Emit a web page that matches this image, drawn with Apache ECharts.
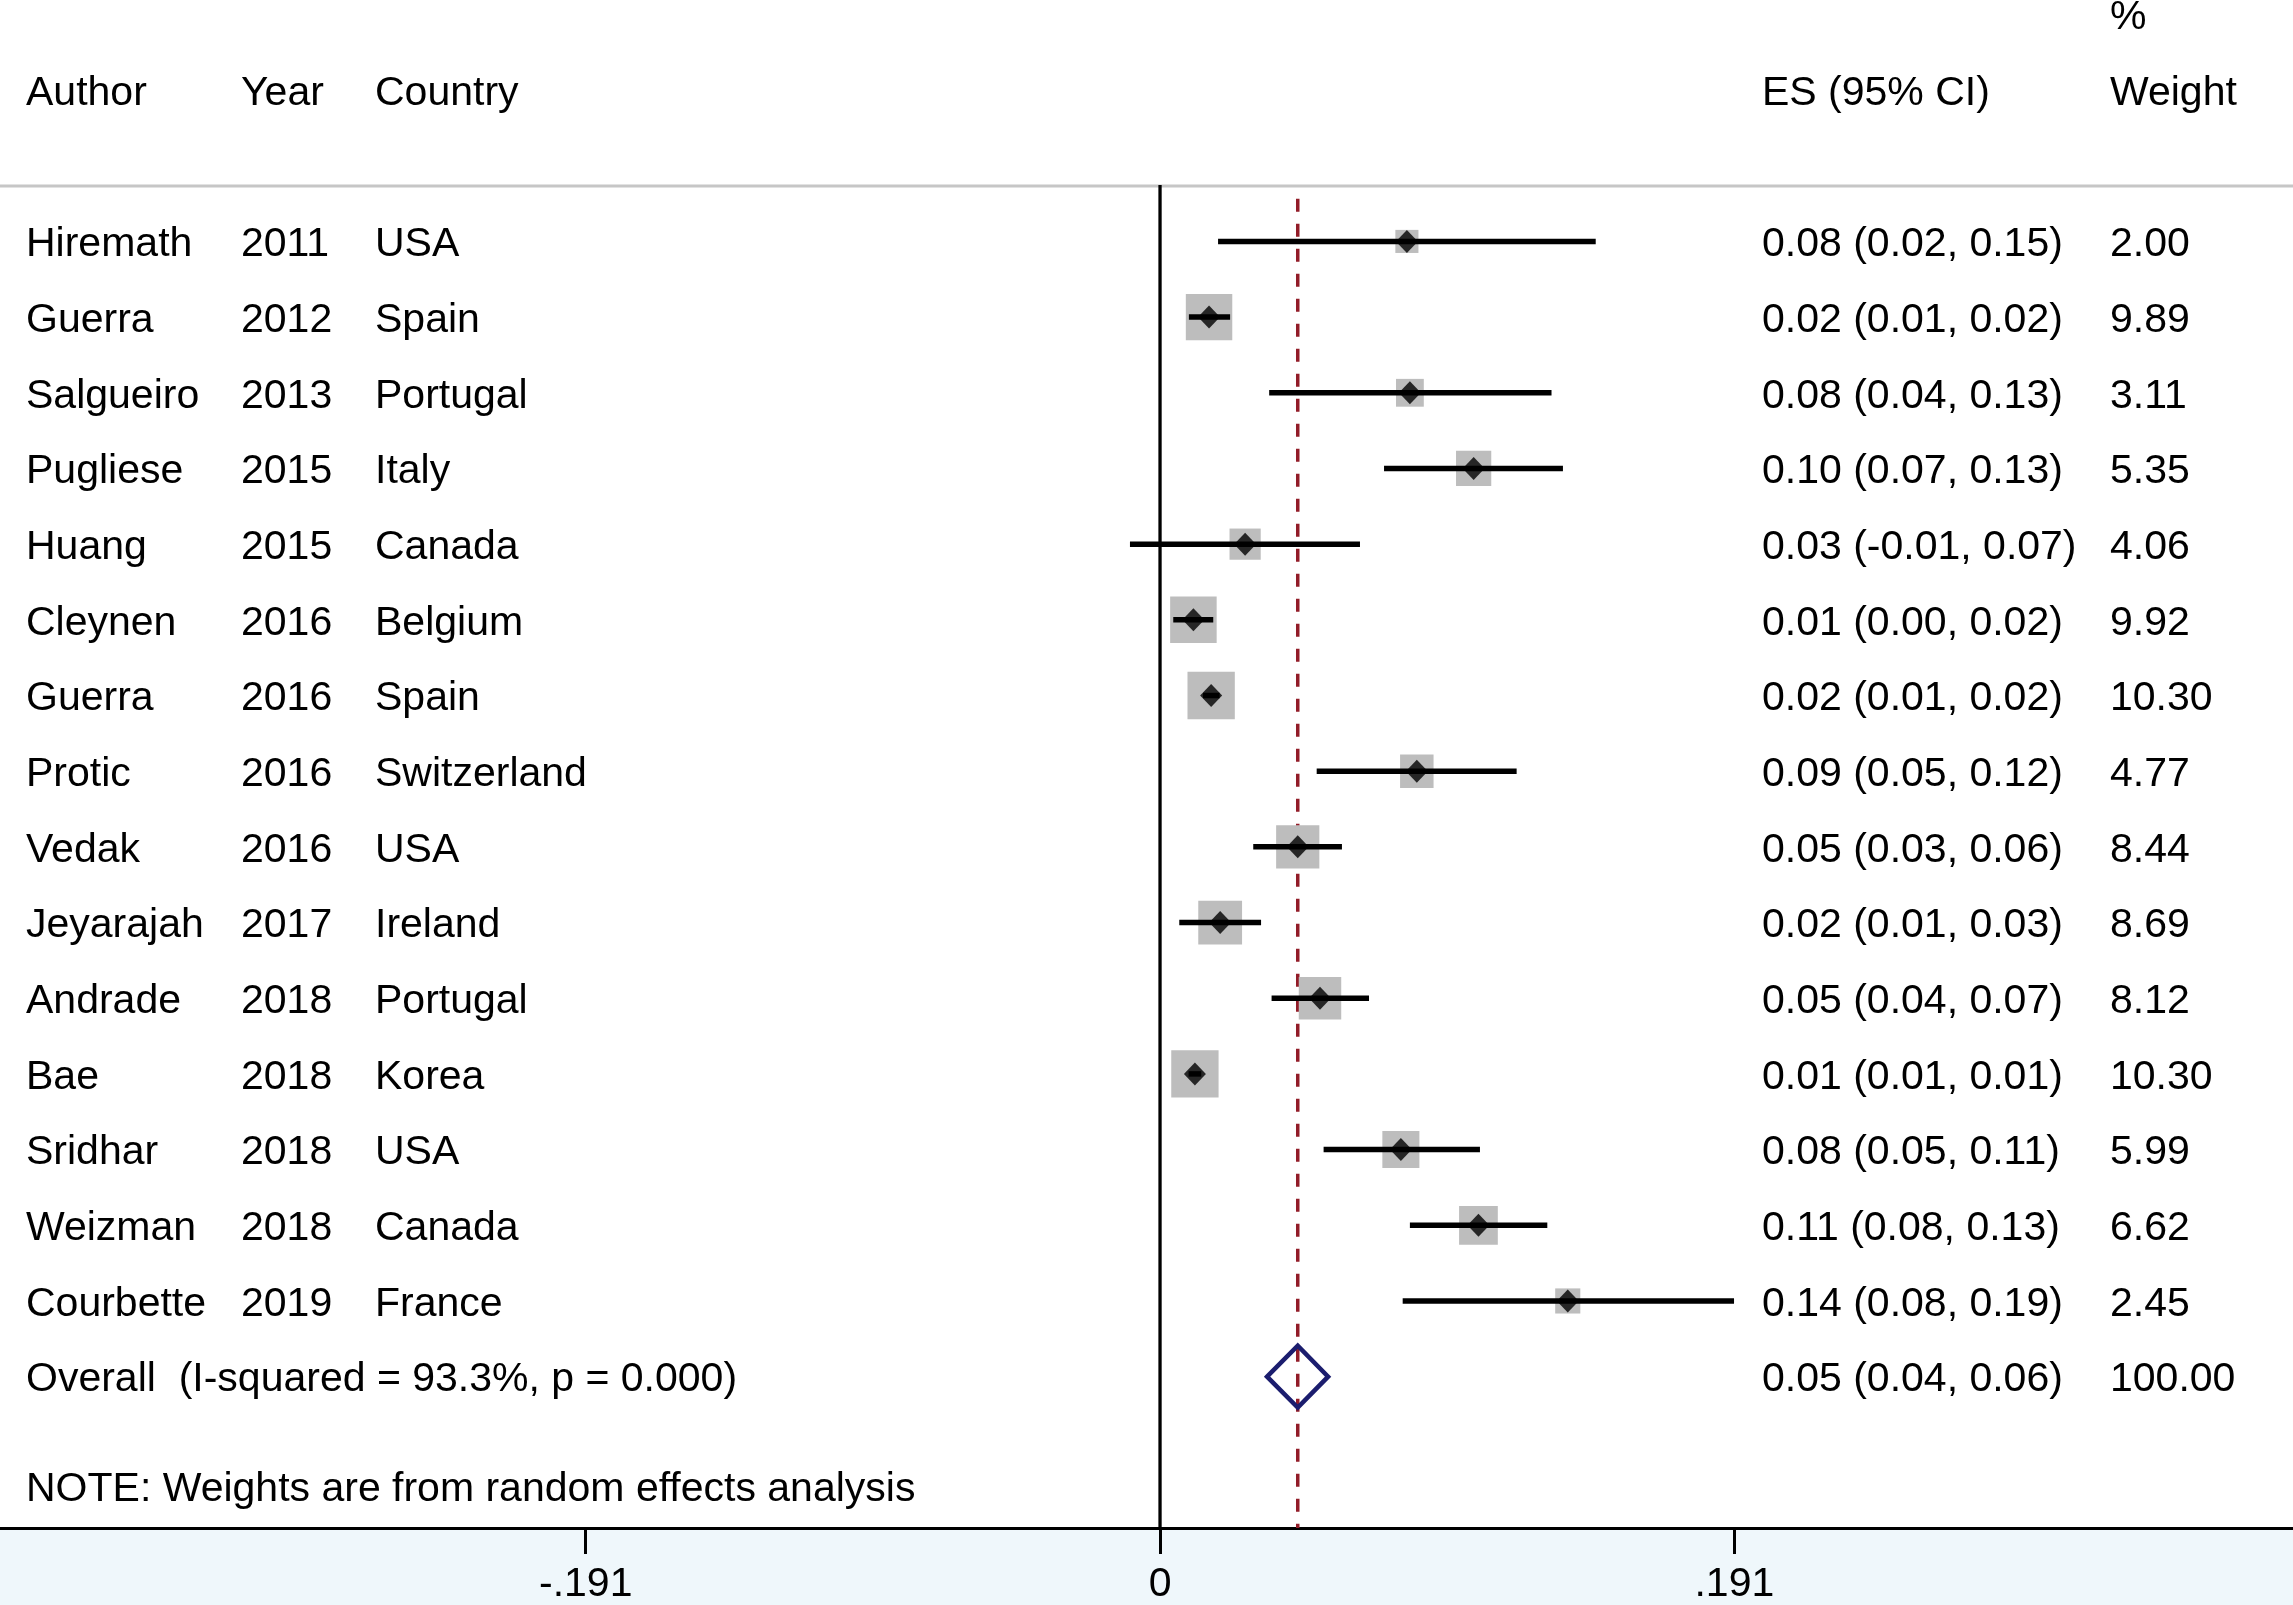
<!DOCTYPE html>
<html>
<head>
<meta charset="utf-8">
<title>Forest plot</title>
<script src="https://cdn.jsdelivr.net/npm/echarts@6.0.0/dist/echarts.min.js"></script>
<style>
  html, body { margin: 0; padding: 0; background: #fff; }
  #forest { width: 2293px; height: 1605px; }
</style>
</head>
<body>
<div id="forest"></div>
<script>
// study data
const authors = ['Hiremath', 'Guerra', 'Salgueiro', 'Pugliese', 'Huang', 'Cleynen', 'Guerra', 'Protic',
  'Vedak', 'Jeyarajah', 'Andrade', 'Bae', 'Sridhar', 'Weizman', 'Courbette']
const years = [2011, 2012, 2013, 2015, 2015, 2016, 2016, 2016, 2016, 2017, 2018, 2018, 2018, 2018, 2019]
const countries = ['USA', 'Spain', 'Portugal', 'Italy', 'Canada', 'Belgium', 'Spain', 'Switzerland',
  'USA', 'Ireland', 'Portugal', 'Korea', 'USA', 'Canada', 'France']
const es = [0.0821, 0.0163, 0.0831, 0.1043, 0.0283, 0.0111, 0.0170, 0.0854, 0.0458, 0.0200, 0.0532, 0.0116, 0.0801, 0.1059, 0.1356]
const ciLow = [0.0193, 0.0096, 0.0363, 0.0745, -0.0100, 0.0044, 0.0143, 0.0521, 0.0310, 0.0064, 0.0371, 0.0095, 0.0544, 0.0831, 0.0807]
const ciHigh = [0.1449, 0.0233, 0.1302, 0.1340, 0.0665, 0.0177, 0.0198, 0.1186, 0.0605, 0.0336, 0.0695, 0.0137, 0.1064, 0.1288, 0.1909]
const esLabels = ['0.08 (0.02, 0.15)', '0.02 (0.01, 0.02)', '0.08 (0.04, 0.13)', '0.10 (0.07, 0.13)',
  '0.03 (-0.01, 0.07)', '0.01 (0.00, 0.02)', '0.02 (0.01, 0.02)', '0.09 (0.05, 0.12)', '0.05 (0.03, 0.06)',
  '0.02 (0.01, 0.03)', '0.05 (0.04, 0.07)', '0.01 (0.01, 0.01)', '0.08 (0.05, 0.11)', '0.11 (0.08, 0.13)',
  '0.14 (0.08, 0.19)']
const weights = [2.00, 9.89, 3.11, 5.35, 4.06, 9.92, 10.30, 4.77, 8.44, 8.69, 8.12, 10.30, 5.99, 6.62, 2.45]

const overallEs = 0.0458
const overallLow = 0.0356
const overallHigh = 0.0559
const overallLabel = '0.05 (0.04, 0.06)'
const overallWeight = '100.00'
const overallText = 'Overall  (I-squared = 93.3%, p = 0.000)'
const noteText = 'NOTE: Weights are from random effects analysis'
const headers = ['Author', 'Year', 'Country', 'ES (95% CI)', 'Weight']

const xTicks = [-0.191, 0, 0.191]
const xTickLabels = ['-.191', '0', '.191']

// layout
const X_MIN = -0.3858, X_MAX = 0.3768
const Y_MIN = -3.19, Y_MAX = 17
const colX = [26, 241, 375, 1762, 2110]
const FONT = '41px "Liberation Sans", Arial, sans-serif'
const TEXT_DY = 3.5
const overallRow = authors.length
const headerRow = -2, percentRow = -3, noteRow = 16.45
const zeroTop = -0.747, dashTop = -0.563

function txt(x, y, s) {
  return { type: 'text', style: { x: x, y: y + TEXT_DY, text: s, font: FONT, fill: '#000', verticalAlign: 'middle', align: 'left' } }
}

var chartDom = document.getElementById('forest')
var myChart = echarts.init(chartDom)
var option

option = {
  animation: false,
  backgroundColor: '#eff7fb',
  grid: { left: 0, top: 0, width: 2293, height: 1535, show: true, backgroundColor: '#fff', borderWidth: 0 },
  xAxis: {
    type: 'value',
    min: X_MIN,
    max: X_MAX,
    position: 'bottom',
    splitLine: { show: false },
    axisLine: { show: true, onZero: false, lineStyle: { color: '#000', width: 3 } },
    axisTick: { show: true, customValues: xTicks, length: 26, lineStyle: { color: '#000', width: 3 } },
    axisLabel: {
      customValues: xTicks,
      margin: 36,
      fontSize: 41,
      fontFamily: '"Liberation Sans", Arial, sans-serif',
      color: '#000',
      formatter: function (v) {
        let k = 0
        xTicks.forEach(function (t, i) { if (Math.abs(t - v) < Math.abs(xTicks[k] - v)) k = i })
        return xTickLabels[k]
      }
    }
  },
  yAxis: { type: 'value', inverse: true, min: Y_MIN, max: Y_MAX, show: false },
  graphic: [
    { type: 'line', shape: { x1: 0, y1: 186, x2: 2293, y2: 186 }, style: { stroke: '#c6c6c6', lineWidth: 3 } }
  ],
  series: [
    {
      // table text
      type: 'custom',
      data: authors.map(function (a, i) { return [0, i] }),
      renderItem: function (params, api) {
        const i = params.dataIndex
        const y = api.coord([0, i])[1]
        return {
          type: 'group',
          children: [
            txt(colX[0], y, authors[i]),
            txt(colX[1], y, String(years[i])),
            txt(colX[2], y, countries[i]),
            txt(colX[3], y, esLabels[i]),
            txt(colX[4], y, weights[i].toFixed(2))
          ]
        }
      }
    },
    {
      // headers, overall row and note
      type: 'custom',
      data: [[0, 0]],
      renderItem: function (params, api) {
        const yh = api.coord([0, headerRow])[1]
        const yp = api.coord([0, percentRow])[1]
        const yo = api.coord([0, overallRow])[1]
        const yn = api.coord([0, noteRow])[1]
        const kids = headers.map(function (h, i) { return txt(colX[i], yh, h) })
        kids.push(txt(colX[4], yp, '%'))
        kids.push(txt(colX[0], yo, overallText))
        kids.push(txt(colX[3], yo, overallLabel))
        kids.push(txt(colX[4], yo, overallWeight))
        kids.push(txt(colX[0], yn, noteText))
        return { type: 'group', children: kids }
      }
    },
    {
      // null line at zero
      type: 'custom',
      data: [[0]],
      renderItem: function (params, api) {
        const p1 = api.coord([api.value(0), zeroTop])
        const p2 = api.coord([api.value(0), Y_MAX])
        return { type: 'line', shape: { x1: p1[0], y1: p1[1], x2: p2[0], y2: p2[1] }, style: { stroke: '#000', lineWidth: 3.3 } }
      }
    },
    {
      // pooled estimate line
      type: 'custom',
      data: [[overallEs]],
      renderItem: function (params, api) {
        const p1 = api.coord([api.value(0), dashTop])
        const p2 = api.coord([api.value(0), Y_MAX])
        return { type: 'line', shape: { x1: p1[0], y1: p1[1], x2: p2[0], y2: p2[1] }, style: { stroke: '#921c28', lineWidth: 3.5, lineDash: [13, 12] } }
      }
    },
    {
      // weight boxes
      type: 'custom',
      data: es.map(function (v, i) { return [v, i, weights[i]] }),
      renderItem: function (params, api) {
        const c = api.coord([api.value(0), api.value(1)])
        const s = 4 + 13.5 * Math.sqrt(api.value(2))
        return { type: 'rect', shape: { x: c[0] - s / 2, y: c[1] - s / 2, width: s, height: s }, style: { fill: '#bdbdbd' } }
      }
    },
    {
      // confidence intervals
      type: 'custom',
      data: es.map(function (v, i) { return [ciLow[i], ciHigh[i], i] }),
      renderItem: function (params, api) {
        const a = api.coord([api.value(0), api.value(2)])
        const b = api.coord([api.value(1), api.value(2)])
        return { type: 'line', shape: { x1: a[0], y1: a[1], x2: b[0], y2: b[1] }, style: { stroke: '#000', lineWidth: 5.5 } }
      }
    },
    {
      type: 'scatter',
      data: es.map(function (v, i) { return [v, i] }),
      symbol: 'diamond',
      symbolSize: [22, 23],
      itemStyle: { color: '#000' }
    },
    {
      // overall diamond
      type: 'custom',
      data: [[overallLow, overallEs, overallHigh, overallRow]],
      renderItem: function (params, api) {
        const r = api.value(3)
        const l = api.coord([api.value(0), r])
        const m = api.coord([api.value(1), r])
        const h = api.coord([api.value(2), r])
        return {
          type: 'polygon',
          shape: { points: [[l[0], l[1]], [m[0], m[1] - 31], [h[0], h[1]], [m[0], m[1] + 31]] },
          style: { fill: 'none', stroke: '#1b1d6e', lineWidth: 4.5, lineJoin: 'miter' }
        }
      }
    }
  ]
}

option && myChart.setOption(option)
</script>
</body>
</html>
